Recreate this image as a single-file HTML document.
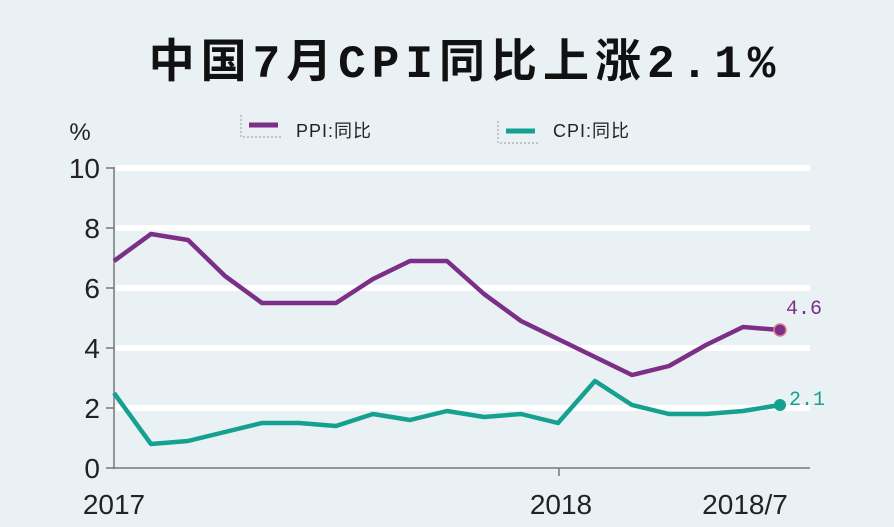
<!DOCTYPE html>
<html><head><meta charset="utf-8"><style>
html,body{margin:0;padding:0;background:#e9f1f4;}
svg{display:block;}
</style></head><body>
<svg width="894" height="527" viewBox="0 0 894 527" xmlns="http://www.w3.org/2000/svg">
<rect width="894" height="527" fill="#e9f1f4"/>
<text x="465" y="77" text-anchor="middle" letter-spacing="6" font-family="'Liberation Mono','Noto Sans CJK SC',monospace" font-weight="bold" font-size="46" fill="#111">中国7月CPI同比上涨2.1%</text>
<text x="80" y="140" text-anchor="middle" font-family="'Liberation Sans',sans-serif" font-size="24" fill="#222">%</text>
<g font-family="'Liberation Sans','Noto Sans CJK SC',sans-serif" font-size="18" fill="#222" letter-spacing="1">
<path d="M241 115 V137 H283" stroke="#999" stroke-dasharray="2,2" fill="none"/>
<line x1="249" y1="125" x2="278" y2="125" stroke="#7b2f86" stroke-width="5"/>
<text x="296" y="137">PPI:同比</text>
<path d="M498 121 V143 H540" stroke="#999" stroke-dasharray="2,2" fill="none"/>
<line x1="506" y1="131" x2="535" y2="131" stroke="#16a090" stroke-width="5"/>
<text x="553" y="137">CPI:同比</text>
</g>
<g stroke="#fff" stroke-width="6">
<line x1="116" y1="168" x2="810" y2="168"/>
<line x1="116" y1="228" x2="810" y2="228"/>
<line x1="116" y1="288" x2="810" y2="288"/>
<line x1="116" y1="348" x2="810" y2="348"/>
<line x1="116" y1="408" x2="810" y2="408"/>
</g>
<g stroke="#777" stroke-width="1.5">
<line x1="114" y1="167" x2="114" y2="469"/>
<line x1="114" y1="468" x2="810" y2="468"/>
<line x1="106" y1="168" x2="114" y2="168"/><line x1="106" y1="228" x2="114" y2="228"/>
<line x1="106" y1="288" x2="114" y2="288"/><line x1="106" y1="348" x2="114" y2="348"/>
<line x1="106" y1="408" x2="114" y2="408"/><line x1="106" y1="468" x2="114" y2="468"/>
<line x1="559" y1="468" x2="559" y2="476"/>
</g>
<g font-family="'Liberation Sans',sans-serif" font-size="28" fill="#222" text-anchor="end">
<text x="100" y="178">10</text><text x="100" y="238">8</text><text x="100" y="298">6</text>
<text x="100" y="358">4</text><text x="100" y="418">2</text><text x="100" y="478">0</text>
</g>
<g font-family="'Liberation Sans',sans-serif" font-size="28" fill="#222" text-anchor="middle">
<text x="114" y="514">2017</text><text x="561" y="514">2018</text><text x="745" y="514">2018/7</text>
</g>
<polyline fill="none" stroke="#7b2f86" stroke-width="4.5" stroke-linejoin="round" points="114,261 151,234 188,240 225,276 262,303 299,303 336,303 373,279 410,261 447,261 484,294 521,321 558,339 595,357 632,375 669,366 706,345 743,327 780,330"/>
<polyline fill="none" stroke="#16a090" stroke-width="4.5" stroke-linejoin="round" points="114,393 151,444 188,441 225,432 262,423 299,423 336,426 373,414 410,420 447,411 484,417 521,414 558,423 595,381 632,405 669,414 706,414 743,411 780,405"/>
<circle cx="780" cy="330" r="6" fill="#7b2f86" stroke="#e07a8a" stroke-width="1.5"/>
<circle cx="780" cy="405" r="6" fill="#16a090"/>
<text x="786" y="314" font-family="'Liberation Mono',monospace" font-size="20" fill="#7b2f86">4.6</text>
<text x="789" y="405" font-family="'Liberation Mono',monospace" font-size="20" fill="#16a090">2.1</text>
</svg>
</body></html>
